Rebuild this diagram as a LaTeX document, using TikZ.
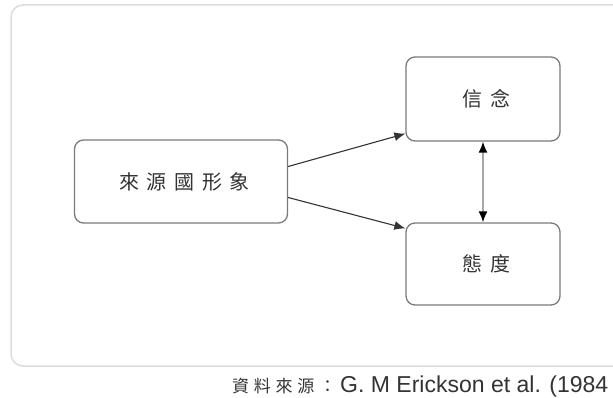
\documentclass[tikz,border=0pt]{standalone}
\usepackage{fontspec}
\usepackage{tikz}
\usetikzlibrary{arrows.meta}
\setmainfont{Liberation Sans}
\newfontfamily\cjk[LetterSpace=38]{Noto Sans CJK TC}
\newfontfamily\cjkcap[LetterSpace=28]{Noto Sans CJK TC}
\definecolor{boxline}{HTML}{7A7A7A}
\definecolor{frameline}{HTML}{DCDCDC}
\definecolor{ink}{HTML}{333333}
\tikzset{
  box/.style={draw=boxline, line width=1.3pt, rounded corners=9pt, fill=white,
    text=ink, font=\cjk\fontsize{20}{20}\selectfont, inner sep=0pt},
  arr/.style={draw=ink, line width=1.1pt, -{Latex[length=11pt,width=9pt]}},
}

\begin{document}
\begin{tikzpicture}[x=1pt, y=-1pt, node distance=165pt]
      \useasboundingbox (0,0) rectangle (613,398);
      \draw[frameline, line width=1.5pt, rounded corners=12pt] (11,5) rectangle (630,366);
      \node [box, minimum width=213pt, minimum height=83pt] (1) at (181,181.5) {\hspace{7pt}來源國形象};
      \node [box, minimum width=154pt, minimum height=84pt] (2) at (483,99) {\hspace{7pt}信念};
      \node [box, minimum width=154pt, minimum height=82pt, below of=2] (3) {\hspace{7pt}態度};

      \draw[arr] ([yshift=15pt]1.east) -- ([yshift=8pt]2.south west);
      \draw[arr] ([yshift=-16pt]1.east) -- ([yshift=-6pt]3.north west);
      \draw[draw=gray!70, line width=1.6pt, {Latex[length=11pt,width=9pt,black]}-{Latex[length=11pt,width=9pt,black]}] (2.south) -- (3.north);

      \node [anchor=base west, inner sep=0pt, text=ink] (src) at (232,392)
        {{\cjkcap\fontsize{17}{17}\selectfont 資料來源：}\hspace{4pt}\fontsize{23}{23}\selectfont G. M Erickson et al. (1984};
    \end{tikzpicture}
\end{document}
